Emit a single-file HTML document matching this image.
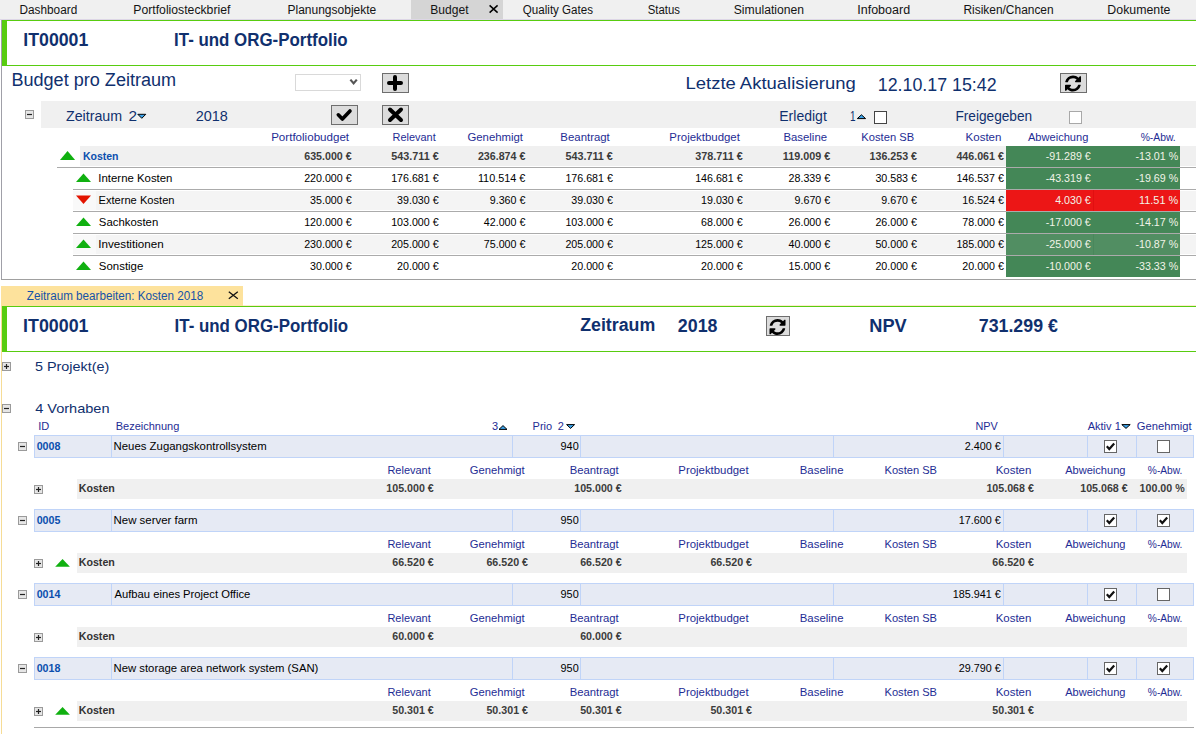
<!DOCTYPE html>
<html><head><meta charset="utf-8"><title>Budget</title>
<style>
html,body{margin:0;padding:0;background:#fff;width:1196px;height:734px;overflow:hidden}
svg{display:block}
svg text{font-family:"Liberation Sans",Arial,sans-serif;white-space:pre}
svg rect{shape-rendering:crispEdges}
</style></head><body>
<svg width="1196" height="734" viewBox="0 0 1196 734">
<rect x="0" y="0" width="1196" height="20" fill="#f0f0f0"/>
<rect x="411" y="0" width="92" height="19" fill="#d5d5d5"/>
<rect x="0" y="19" width="1196" height="1" fill="#ddd6e6"/>
<text x="19.53" y="14.00" font-size="12" fill="#141414" textLength="57.73" lengthAdjust="spacingAndGlyphs">Dashboard</text>
<text x="133.30" y="14.00" font-size="12" fill="#141414" textLength="97.08" lengthAdjust="spacingAndGlyphs">Portfoliosteckbrief</text>
<text x="287.52" y="14.00" font-size="12" fill="#141414" textLength="88.72" lengthAdjust="spacingAndGlyphs">Planungsobjekte</text>
<text x="430.31" y="14.00" font-size="12" fill="#141414" textLength="38.28" lengthAdjust="spacingAndGlyphs">Budget</text>
<text x="522.85" y="14.00" font-size="12" fill="#141414" textLength="70.17" lengthAdjust="spacingAndGlyphs">Quality Gates</text>
<text x="647.78" y="14.00" font-size="12" fill="#141414" textLength="32.23" lengthAdjust="spacingAndGlyphs">Status</text>
<text x="733.75" y="14.00" font-size="12" fill="#141414" textLength="70.34" lengthAdjust="spacingAndGlyphs">Simulationen</text>
<text x="857.25" y="14.00" font-size="12" fill="#141414" textLength="52.86" lengthAdjust="spacingAndGlyphs">Infoboard</text>
<text x="963.42" y="14.00" font-size="12" fill="#141414" textLength="90.25" lengthAdjust="spacingAndGlyphs">Risiken/Chancen</text>
<text x="1107.39" y="14.00" font-size="12" fill="#141414" textLength="63.06" lengthAdjust="spacingAndGlyphs">Dokumente</text>
<path d="M489.6 5.4 L497.6 12.6 M497.6 5.4 L489.6 12.6" stroke="#000" stroke-width="1.5" fill="none"/>
<rect x="1" y="20" width="1" height="260" fill="#a0a0a8"/>
<rect x="1" y="279" width="1195" height="1" fill="#a0a0a0"/>
<rect x="2" y="20" width="1194" height="1" fill="#58cc10"/>
<rect x="2" y="65" width="1194" height="1" fill="#58cc10"/>
<rect x="2" y="20" width="5" height="46" fill="#58cc10"/>
<text x="23.32" y="46.00" font-size="17.5" font-weight="bold" fill="#10306e" textLength="64.98" lengthAdjust="spacingAndGlyphs">IT00001</text>
<text x="174.08" y="46.00" font-size="17.5" font-weight="bold" fill="#10306e" textLength="173.58" lengthAdjust="spacingAndGlyphs">IT- und ORG-Portfolio</text>
<text x="11.42" y="86.00" font-size="18" fill="#10306e" textLength="164.77" lengthAdjust="spacingAndGlyphs">Budget pro Zeitraum</text>
<rect x="295.5" y="74.5" width="65" height="16" fill="#ffffff" stroke="#d9d9d9" stroke-width="1"/>
<path d="M350.4 79.6 L353.6 83.4 L356.8 79.6" stroke="#555" stroke-width="2.2" fill="none"/>
<rect x="382.5" y="73.5" width="26" height="19" fill="#dcdcdc" stroke="#6e6e6e" stroke-width="1"/>
<path d="M389 83 H401 M395 77 V89" stroke="#000" stroke-width="4" stroke-linecap="round" fill="none"/>
<text x="685.50" y="89.00" font-size="17" fill="#10306e" textLength="170.29" lengthAdjust="spacingAndGlyphs">Letzte Aktualisierung</text>
<text x="877.74" y="91.00" font-size="18" fill="#10306e" textLength="118.85" lengthAdjust="spacingAndGlyphs">12.10.17 15:42</text>
<rect x="1060.5" y="73.5" width="26" height="19" fill="#dcdcdc" stroke="#6e6e6e" stroke-width="1"/>
<path transform="translate(1063.67,74.17) scale(0.01042)" d="M1639 1056q0 5-1 7-64 268-268 434.5t-478 166.5q-146 0-282.5-55t-243.5-157l-129 129q-19 19-45 19t-45-19-19-45v-448q0-26 19-45t45-19h448q26 0 45 19t19 45-19 45l-137 137q71 66 161 102t187 36q134 0 250-65t186-179q11-17 53-117 8-23 30-23h192q13 0 22.5 9.5t9.5 22.5zm25-800v448q0 26-19 45t-45 19h-448q-26 0-45-19t-19-45 19-45l138-138q-148-137-349-137-134 0-250 65t-186 179q-11 17-53 117-8 23-30 23h-199q-13 0-22.5-9.5t-9.5-22.5v-7q65-268 270-434.5t480-166.5q146 0 284 55.5t245 156.5l130-129q19-19 45-19t45 19 19 45z" fill="#000"/>
<rect x="41" y="101" width="1155" height="27" fill="#f0f0f0"/>
<rect x="25.5" y="110.5" width="8" height="8" fill="#e6e6e6" stroke="#9a9a9a" stroke-width="1"/>
<path d="M27 114.5 H32" stroke="#222" stroke-width="1.2"/>
<text x="65.95" y="121.00" font-size="14" fill="#10306e" textLength="56.19" lengthAdjust="spacingAndGlyphs">Zeitraum</text>
<text x="128.53" y="121.00" font-size="14" fill="#10306e" textLength="8.55" lengthAdjust="spacingAndGlyphs">2</text>
<path d="M137.8 114.3 L145.8 114.3 L141.8 118.3 Z" fill="#3ca4ec" stroke="#000" stroke-width="1"/>
<text x="195.67" y="121.40" font-size="14" fill="#10306e" textLength="32.16" lengthAdjust="spacingAndGlyphs">2018</text>
<rect x="331.5" y="105.5" width="26" height="19" fill="#dcdcdc" stroke="#6e6e6e" stroke-width="1"/>
<path d="M338.3 114.8 L342.4 119 L350 111" stroke="#000" stroke-width="3.6" stroke-linecap="round" stroke-linejoin="round" fill="none"/>
<rect x="382.5" y="105.5" width="26" height="19" fill="#dcdcdc" stroke="#6e6e6e" stroke-width="1"/>
<path d="M390 109.5 L401 120 M401 109.5 L390 120" stroke="#000" stroke-width="4" stroke-linecap="round" fill="none"/>
<text x="779.25" y="120.50" font-size="14" fill="#10306e" textLength="47.55" lengthAdjust="spacingAndGlyphs">Erledigt</text>
<text x="849.94" y="120.50" font-size="14" fill="#10306e" textLength="5.55" lengthAdjust="spacingAndGlyphs">1</text>
<path d="M857.3 118.6 L865.6 118.6 L861.45 114.8 Z" fill="#3ca4ec" stroke="#000" stroke-width="1"/>
<rect x="874.5" y="111.5" width="12" height="12" fill="#ffffff" stroke="#444" stroke-width="1"/>
<text x="955.38" y="120.50" font-size="14" fill="#10306e" textLength="76.81" lengthAdjust="spacingAndGlyphs">Freigegeben</text>
<rect x="1069.5" y="111.5" width="12" height="12" fill="#ffffff" stroke="#a8a8a8" stroke-width="1"/>
<text x="271.15" y="141.00" font-size="11" fill="#1e2c94" textLength="77.94" lengthAdjust="spacingAndGlyphs">Portfoliobudget</text>
<text x="392.60" y="141.00" font-size="11" fill="#1e2c94" textLength="43.08" lengthAdjust="spacingAndGlyphs">Relevant</text>
<text x="467.43" y="141.00" font-size="11" fill="#1e2c94" textLength="55.55" lengthAdjust="spacingAndGlyphs">Genehmigt</text>
<text x="560.37" y="141.00" font-size="11" fill="#1e2c94" textLength="49.42" lengthAdjust="spacingAndGlyphs">Beantragt</text>
<text x="669.36" y="141.00" font-size="11" fill="#1e2c94" textLength="70.52" lengthAdjust="spacingAndGlyphs">Projektbudget</text>
<text x="783.47" y="141.00" font-size="11" fill="#1e2c94" textLength="43.54" lengthAdjust="spacingAndGlyphs">Baseline</text>
<text x="861.39" y="141.00" font-size="11" fill="#1e2c94" textLength="52.70" lengthAdjust="spacingAndGlyphs">Kosten SB</text>
<text x="965.55" y="141.00" font-size="11" fill="#1e2c94" textLength="35.89" lengthAdjust="spacingAndGlyphs">Kosten</text>
<text x="1027.98" y="141.00" font-size="11" fill="#1e2c94" textLength="60.34" lengthAdjust="spacingAndGlyphs">Abweichung</text>
<text x="1140.64" y="141.00" font-size="11" fill="#1e2c94" textLength="35.09" lengthAdjust="spacingAndGlyphs">%-Abw.</text>
<rect x="80" y="146" width="1116" height="20" fill="#f0f0f0"/>
<rect x="57" y="167" width="1139" height="1" fill="#ababab"/>
<path d="M60 159.9 L75.1 159.9 L67.55 151.1 Z" fill="#10b010"/>
<text x="82.90" y="160.00" font-size="11" font-weight="bold" fill="#0b4fae" textLength="35.66" lengthAdjust="spacingAndGlyphs">Kosten</text>
<rect x="1006" y="146" width="174" height="21" fill="#448757"/>
<text x="304.22" y="159.50" font-size="11" font-weight="bold" fill="#3c3c3c" textLength="47.47" lengthAdjust="spacingAndGlyphs">635.000 €</text>
<text x="391.22" y="159.50" font-size="11" font-weight="bold" fill="#3c3c3c" textLength="47.47" lengthAdjust="spacingAndGlyphs">543.711 €</text>
<text x="477.92" y="159.50" font-size="11" font-weight="bold" fill="#3c3c3c" textLength="47.47" lengthAdjust="spacingAndGlyphs">236.874 €</text>
<text x="565.42" y="159.50" font-size="11" font-weight="bold" fill="#3c3c3c" textLength="47.47" lengthAdjust="spacingAndGlyphs">543.711 €</text>
<text x="695.22" y="159.50" font-size="11" font-weight="bold" fill="#3c3c3c" textLength="47.47" lengthAdjust="spacingAndGlyphs">378.711 €</text>
<text x="782.72" y="159.50" font-size="11" font-weight="bold" fill="#3c3c3c" textLength="47.47" lengthAdjust="spacingAndGlyphs">119.009 €</text>
<text x="869.52" y="159.50" font-size="11" font-weight="bold" fill="#3c3c3c" textLength="47.47" lengthAdjust="spacingAndGlyphs">136.253 €</text>
<text x="956.42" y="159.50" font-size="11" font-weight="bold" fill="#3c3c3c" textLength="47.47" lengthAdjust="spacingAndGlyphs">446.061 €</text>
<text x="1045.66" y="159.50" font-size="11" fill="#f2f4e8" textLength="45.09" lengthAdjust="spacingAndGlyphs">-91.289 €</text>
<text x="1135.47" y="159.50" font-size="11" fill="#f2f4e8" textLength="42.71" lengthAdjust="spacingAndGlyphs">-13.01 %</text>
<rect x="73" y="189" width="1123" height="1" fill="#ababab"/>
<path d="M76 182 L91 182 L83.5 173.4 Z" fill="#10b010"/>
<text x="98.35" y="182.20" font-size="11" fill="#000" textLength="74.09" lengthAdjust="spacingAndGlyphs">Interne Kosten</text>
<rect x="1006" y="168" width="174" height="21" fill="#448757"/>
<text x="304.18" y="182.20" font-size="11" fill="#000" textLength="47.47" lengthAdjust="spacingAndGlyphs">220.000 €</text>
<text x="391.18" y="182.20" font-size="11" fill="#000" textLength="47.47" lengthAdjust="spacingAndGlyphs">176.681 €</text>
<text x="477.88" y="182.20" font-size="11" fill="#000" textLength="47.47" lengthAdjust="spacingAndGlyphs">110.514 €</text>
<text x="565.38" y="182.20" font-size="11" fill="#000" textLength="47.47" lengthAdjust="spacingAndGlyphs">176.681 €</text>
<text x="695.18" y="182.20" font-size="11" fill="#000" textLength="47.47" lengthAdjust="spacingAndGlyphs">146.681 €</text>
<text x="788.62" y="182.20" font-size="11" fill="#000" textLength="41.53" lengthAdjust="spacingAndGlyphs">28.339 €</text>
<text x="875.42" y="182.20" font-size="11" fill="#000" textLength="41.53" lengthAdjust="spacingAndGlyphs">30.583 €</text>
<text x="956.38" y="182.20" font-size="11" fill="#000" textLength="47.47" lengthAdjust="spacingAndGlyphs">146.537 €</text>
<text x="1045.66" y="182.20" font-size="11" fill="#f2f4e8" textLength="45.09" lengthAdjust="spacingAndGlyphs">-43.319 €</text>
<text x="1135.47" y="182.20" font-size="11" fill="#f2f4e8" textLength="42.71" lengthAdjust="spacingAndGlyphs">-19.69 %</text>
<rect x="73" y="191" width="23" height="19" fill="#f9f9f9"/>
<rect x="96" y="191" width="1100" height="19" fill="#f4f4f4"/>
<rect x="73" y="211" width="1123" height="1" fill="#ababab"/>
<path d="M76 195.4 L91 195.4 L83.5 204 Z" fill="#e31400"/>
<text x="98.49" y="204.20" font-size="11" fill="#000" textLength="76.03" lengthAdjust="spacingAndGlyphs">Externe Kosten</text>
<rect x="1006" y="190" width="174" height="21" fill="#ec1616"/>
<rect x="1093" y="190" width="1" height="21" fill="#e01010"/>
<text x="310.12" y="204.20" font-size="11" fill="#000" textLength="41.53" lengthAdjust="spacingAndGlyphs">35.000 €</text>
<text x="397.12" y="204.20" font-size="11" fill="#000" textLength="41.53" lengthAdjust="spacingAndGlyphs">39.030 €</text>
<text x="489.75" y="204.20" font-size="11" fill="#000" textLength="35.60" lengthAdjust="spacingAndGlyphs">9.360 €</text>
<text x="571.32" y="204.20" font-size="11" fill="#000" textLength="41.53" lengthAdjust="spacingAndGlyphs">39.030 €</text>
<text x="701.12" y="204.20" font-size="11" fill="#000" textLength="41.53" lengthAdjust="spacingAndGlyphs">19.030 €</text>
<text x="794.55" y="204.20" font-size="11" fill="#000" textLength="35.60" lengthAdjust="spacingAndGlyphs">9.670 €</text>
<text x="881.35" y="204.20" font-size="11" fill="#000" textLength="35.60" lengthAdjust="spacingAndGlyphs">9.670 €</text>
<text x="962.32" y="204.20" font-size="11" fill="#000" textLength="41.53" lengthAdjust="spacingAndGlyphs">16.524 €</text>
<text x="1055.15" y="204.20" font-size="11" fill="#f2f4e8" textLength="35.60" lengthAdjust="spacingAndGlyphs">4.030 €</text>
<text x="1139.03" y="204.20" font-size="11" fill="#f2f4e8" textLength="39.15" lengthAdjust="spacingAndGlyphs">11.51 %</text>
<rect x="73" y="233" width="1123" height="1" fill="#ababab"/>
<path d="M76 226 L91 226 L83.5 217.4 Z" fill="#10b010"/>
<text x="98.88" y="226.20" font-size="11" fill="#000" textLength="59.35" lengthAdjust="spacingAndGlyphs">Sachkosten</text>
<rect x="1006" y="212" width="174" height="21" fill="#448757"/>
<text x="304.18" y="226.20" font-size="11" fill="#000" textLength="47.47" lengthAdjust="spacingAndGlyphs">120.000 €</text>
<text x="391.18" y="226.20" font-size="11" fill="#000" textLength="47.47" lengthAdjust="spacingAndGlyphs">103.000 €</text>
<text x="483.82" y="226.20" font-size="11" fill="#000" textLength="41.53" lengthAdjust="spacingAndGlyphs">42.000 €</text>
<text x="565.38" y="226.20" font-size="11" fill="#000" textLength="47.47" lengthAdjust="spacingAndGlyphs">103.000 €</text>
<text x="701.12" y="226.20" font-size="11" fill="#000" textLength="41.53" lengthAdjust="spacingAndGlyphs">68.000 €</text>
<text x="788.62" y="226.20" font-size="11" fill="#000" textLength="41.53" lengthAdjust="spacingAndGlyphs">26.000 €</text>
<text x="875.42" y="226.20" font-size="11" fill="#000" textLength="41.53" lengthAdjust="spacingAndGlyphs">26.000 €</text>
<text x="962.32" y="226.20" font-size="11" fill="#000" textLength="41.53" lengthAdjust="spacingAndGlyphs">78.000 €</text>
<text x="1045.66" y="226.20" font-size="11" fill="#f2f4e8" textLength="45.09" lengthAdjust="spacingAndGlyphs">-17.000 €</text>
<text x="1135.47" y="226.20" font-size="11" fill="#f2f4e8" textLength="42.71" lengthAdjust="spacingAndGlyphs">-14.17 %</text>
<rect x="73" y="235" width="23" height="19" fill="#f9f9f9"/>
<rect x="96" y="235" width="1100" height="19" fill="#f4f4f4"/>
<rect x="73" y="255" width="1123" height="1" fill="#ababab"/>
<path d="M76 248 L91 248 L83.5 239.4 Z" fill="#10b010"/>
<text x="98.33" y="248.20" font-size="11" fill="#000" textLength="65.33" lengthAdjust="spacingAndGlyphs">Investitionen</text>
<rect x="1006" y="234" width="174" height="21" fill="#518e62"/>
<rect x="1093" y="234" width="1" height="21" fill="#4a875b"/>
<text x="304.18" y="248.20" font-size="11" fill="#000" textLength="47.47" lengthAdjust="spacingAndGlyphs">230.000 €</text>
<text x="391.18" y="248.20" font-size="11" fill="#000" textLength="47.47" lengthAdjust="spacingAndGlyphs">205.000 €</text>
<text x="483.82" y="248.20" font-size="11" fill="#000" textLength="41.53" lengthAdjust="spacingAndGlyphs">75.000 €</text>
<text x="565.38" y="248.20" font-size="11" fill="#000" textLength="47.47" lengthAdjust="spacingAndGlyphs">205.000 €</text>
<text x="695.18" y="248.20" font-size="11" fill="#000" textLength="47.47" lengthAdjust="spacingAndGlyphs">125.000 €</text>
<text x="788.62" y="248.20" font-size="11" fill="#000" textLength="41.53" lengthAdjust="spacingAndGlyphs">40.000 €</text>
<text x="875.42" y="248.20" font-size="11" fill="#000" textLength="41.53" lengthAdjust="spacingAndGlyphs">50.000 €</text>
<text x="956.38" y="248.20" font-size="11" fill="#000" textLength="47.47" lengthAdjust="spacingAndGlyphs">185.000 €</text>
<text x="1045.66" y="248.20" font-size="11" fill="#f2f4e8" textLength="45.09" lengthAdjust="spacingAndGlyphs">-25.000 €</text>
<text x="1135.47" y="248.20" font-size="11" fill="#f2f4e8" textLength="42.71" lengthAdjust="spacingAndGlyphs">-10.87 %</text>
<path d="M76 270 L91 270 L83.5 261.4 Z" fill="#10b010"/>
<text x="98.88" y="270.20" font-size="11" fill="#000" textLength="44.43" lengthAdjust="spacingAndGlyphs">Sonstige</text>
<rect x="1006" y="256" width="174" height="21" fill="#448757"/>
<text x="310.12" y="270.20" font-size="11" fill="#000" textLength="41.53" lengthAdjust="spacingAndGlyphs">30.000 €</text>
<text x="397.12" y="270.20" font-size="11" fill="#000" textLength="41.53" lengthAdjust="spacingAndGlyphs">20.000 €</text>
<text x="571.32" y="270.20" font-size="11" fill="#000" textLength="41.53" lengthAdjust="spacingAndGlyphs">20.000 €</text>
<text x="701.12" y="270.20" font-size="11" fill="#000" textLength="41.53" lengthAdjust="spacingAndGlyphs">20.000 €</text>
<text x="788.62" y="270.20" font-size="11" fill="#000" textLength="41.53" lengthAdjust="spacingAndGlyphs">15.000 €</text>
<text x="875.42" y="270.20" font-size="11" fill="#000" textLength="41.53" lengthAdjust="spacingAndGlyphs">20.000 €</text>
<text x="962.32" y="270.20" font-size="11" fill="#000" textLength="41.53" lengthAdjust="spacingAndGlyphs">20.000 €</text>
<text x="1045.66" y="270.20" font-size="11" fill="#f2f4e8" textLength="45.09" lengthAdjust="spacingAndGlyphs">-10.000 €</text>
<text x="1135.47" y="270.20" font-size="11" fill="#f2f4e8" textLength="42.71" lengthAdjust="spacingAndGlyphs">-33.33 %</text>
<rect x="1" y="286" width="242" height="20" fill="#fde29c"/>
<text x="26.83" y="300.00" font-size="12" fill="#1552a8" textLength="176.48" lengthAdjust="spacingAndGlyphs">Zeitraum bearbeiten: Kosten 2018</text>
<path d="M228.8 291.8 L237.8 298.8 M237.8 291.8 L228.8 298.8" stroke="#111" stroke-width="1.3" fill="none"/>
<rect x="1" y="306" width="1" height="428" fill="#f6dc96"/>
<rect x="243" y="305" width="953" height="1" fill="#fdeccc"/>
<rect x="2" y="306" width="1194" height="1" fill="#58cc10"/>
<rect x="2" y="351" width="1194" height="1" fill="#58cc10"/>
<rect x="2" y="306" width="5" height="46" fill="#58cc10"/>
<text x="23.11" y="332.00" font-size="17.5" font-weight="bold" fill="#10306e" textLength="65.39" lengthAdjust="spacingAndGlyphs">IT00001</text>
<text x="174.58" y="332.00" font-size="17.5" font-weight="bold" fill="#10306e" textLength="173.58" lengthAdjust="spacingAndGlyphs">IT- und ORG-Portfolio</text>
<text x="580.17" y="331.00" font-size="17.5" font-weight="bold" fill="#10306e" textLength="75.03" lengthAdjust="spacingAndGlyphs">Zeitraum</text>
<text x="677.88" y="332.00" font-size="17.5" font-weight="bold" fill="#10306e" textLength="39.67" lengthAdjust="spacingAndGlyphs">2018</text>
<rect x="766.5" y="316.5" width="23" height="19" fill="#dcdcdc" stroke="#6e6e6e" stroke-width="1"/>
<path transform="translate(768.17,317.67) scale(0.01042)" d="M1639 1056q0 5-1 7-64 268-268 434.5t-478 166.5q-146 0-282.5-55t-243.5-157l-129 129q-19 19-45 19t-45-19-19-45v-448q0-26 19-45t45-19h448q26 0 45 19t19 45-19 45l-137 137q71 66 161 102t187 36q134 0 250-65t186-179q11-17 53-117 8-23 30-23h192q13 0 22.5 9.5t9.5 22.5zm25-800v448q0 26-19 45t-45 19h-448q-26 0-45-19t-19-45 19-45l138-138q-148-137-349-137-134 0-250 65t-186 179q-11 17-53 117-8 23-30 23h-199q-13 0-22.5-9.5t-9.5-22.5v-7q65-268 270-434.5t480-166.5q146 0 284 55.5t245 156.5l130-129q19-19 45-19t45 19 19 45z" fill="#000"/>
<text x="869.28" y="332.00" font-size="17.5" font-weight="bold" fill="#10306e" textLength="37.44" lengthAdjust="spacingAndGlyphs">NPV</text>
<text x="978.74" y="332.00" font-size="17.5" font-weight="bold" fill="#10306e" textLength="79.18" lengthAdjust="spacingAndGlyphs">731.299 €</text>
<rect x="2.5" y="362.5" width="8" height="8" fill="#e6e6e6" stroke="#9a9a9a" stroke-width="1"/>
<path d="M4 366.5 H9" stroke="#222" stroke-width="1.2"/>
<path d="M6.5 364 V369" stroke="#222" stroke-width="1.2"/>
<text x="34.92" y="371.00" font-size="13.5" fill="#10306e" textLength="74.37" lengthAdjust="spacingAndGlyphs">5 Projekt(e)</text>
<rect x="2.5" y="404.5" width="8" height="8" fill="#e6e6e6" stroke="#9a9a9a" stroke-width="1"/>
<path d="M4 408.5 H9" stroke="#222" stroke-width="1.2"/>
<text x="35.17" y="413.00" font-size="13.5" fill="#10306e" textLength="74.36" lengthAdjust="spacingAndGlyphs">4 Vorhaben</text>
<text x="38.28" y="430.00" font-size="11" fill="#1e2c94" textLength="11.05" lengthAdjust="spacingAndGlyphs">ID</text>
<text x="115.70" y="430.00" font-size="11" fill="#1e2c94" textLength="63.60" lengthAdjust="spacingAndGlyphs">Bezeichnung</text>
<text x="491.88" y="430.00" font-size="11" fill="#1e2c94" textLength="6.12" lengthAdjust="spacingAndGlyphs">3</text>
<path d="M499 429.4 L507 429.4 L503.0 425.6 Z" fill="#3ca4ec" stroke="#000" stroke-width="1"/>
<text x="532.60" y="430.00" font-size="11" fill="#1e2c94" textLength="19.56" lengthAdjust="spacingAndGlyphs">Prio</text>
<text x="557.75" y="430.00" font-size="11" fill="#1e2c94" textLength="6.12" lengthAdjust="spacingAndGlyphs">2</text>
<path d="M566.6 424.6 L574.6 424.6 L570.6 428.4 Z" fill="#3ca4ec" stroke="#000" stroke-width="1"/>
<text x="975.51" y="430.00" font-size="11" fill="#1e2c94" textLength="22.34" lengthAdjust="spacingAndGlyphs">NPV</text>
<text x="1087.68" y="430.00" font-size="11" fill="#1e2c94" textLength="23.84" lengthAdjust="spacingAndGlyphs">Aktiv</text>
<text x="1114.66" y="430.00" font-size="11" fill="#1e2c94" textLength="6.12" lengthAdjust="spacingAndGlyphs">1</text>
<path d="M1121.8 424.6 L1130.2 424.6 L1126.0 428.4 Z" fill="#3ca4ec" stroke="#000" stroke-width="1"/>
<text x="1136.74" y="430.00" font-size="11" fill="#1e2c94" textLength="54.85" lengthAdjust="spacingAndGlyphs">Genehmigt</text>
<rect x="34.5" y="435.5" width="1159" height="22" fill="#e6eaf4" stroke="#c0d4f8" stroke-width="1"/>
<rect x="111" y="435" width="1" height="23" fill="#c0d4f8"/>
<rect x="512" y="435" width="1" height="23" fill="#c0d4f8"/>
<rect x="580" y="435" width="1" height="23" fill="#c0d4f8"/>
<rect x="833" y="435" width="1" height="23" fill="#c0d4f8"/>
<rect x="1003" y="435" width="1" height="23" fill="#c0d4f8"/>
<rect x="1087" y="435" width="1" height="23" fill="#c0d4f8"/>
<rect x="1136" y="435" width="1" height="23" fill="#c0d4f8"/>
<rect x="18.5" y="442.5" width="8" height="8" fill="#e6e6e6" stroke="#9a9a9a" stroke-width="1"/>
<path d="M20 446.5 H25" stroke="#222" stroke-width="1.2"/>
<text x="36.68" y="450.00" font-size="11" font-weight="bold" fill="#0b4fae" textLength="23.74" lengthAdjust="spacingAndGlyphs">0008</text>
<text x="113.57" y="450.00" font-size="11" fill="#000" textLength="153.08" lengthAdjust="spacingAndGlyphs">Neues Zugangskontrollsystem</text>
<text x="560.56" y="450.00" font-size="11" fill="#000" textLength="18.17" lengthAdjust="spacingAndGlyphs">940</text>
<text x="964.79" y="450.00" font-size="11" fill="#000" textLength="35.97" lengthAdjust="spacingAndGlyphs">2.400 €</text>
<rect x="1104.5" y="440.5" width="12" height="12" fill="#ffffff" stroke="#666" stroke-width="1"/>
<path d="M1106.8 446.3 L1109.3 449 L1114.2 443.6" stroke="#111" stroke-width="2.2" fill="none" stroke-linejoin="miter"/>
<rect x="1157.5" y="440.5" width="12" height="12" fill="#ffffff" stroke="#666" stroke-width="1"/>
<text x="387.40" y="474.00" font-size="11" fill="#1e2c94" textLength="43.38" lengthAdjust="spacingAndGlyphs">Relevant</text>
<text x="469.84" y="474.00" font-size="11" fill="#1e2c94" textLength="54.85" lengthAdjust="spacingAndGlyphs">Genehmigt</text>
<text x="569.67" y="474.00" font-size="11" fill="#1e2c94" textLength="48.91" lengthAdjust="spacingAndGlyphs">Beantragt</text>
<text x="678.37" y="474.00" font-size="11" fill="#1e2c94" textLength="70.22" lengthAdjust="spacingAndGlyphs">Projektbudget</text>
<text x="799.76" y="474.00" font-size="11" fill="#1e2c94" textLength="43.74" lengthAdjust="spacingAndGlyphs">Baseline</text>
<text x="884.49" y="474.00" font-size="11" fill="#1e2c94" textLength="52.50" lengthAdjust="spacingAndGlyphs">Kosten SB</text>
<text x="995.66" y="474.00" font-size="11" fill="#1e2c94" textLength="35.68" lengthAdjust="spacingAndGlyphs">Kosten</text>
<text x="1065.18" y="474.00" font-size="11" fill="#1e2c94" textLength="60.34" lengthAdjust="spacingAndGlyphs">Abweichung</text>
<text x="1147.84" y="474.00" font-size="11" fill="#1e2c94" textLength="34.57" lengthAdjust="spacingAndGlyphs">%-Abw.</text>
<rect x="77" y="479" width="1110" height="20" fill="#f0f0f0"/>
<rect x="34.5" y="485.5" width="8" height="8" fill="#e6e6e6" stroke="#9a9a9a" stroke-width="1"/>
<path d="M36 489.5 H41" stroke="#222" stroke-width="1.2"/>
<path d="M38.5 487 V492" stroke="#222" stroke-width="1.2"/>
<text x="78.69" y="492.00" font-size="11" font-weight="bold" fill="#333" textLength="36.16" lengthAdjust="spacingAndGlyphs">Kosten</text>
<text x="386.32" y="492.00" font-size="11" font-weight="bold" fill="#3c3c3c" textLength="47.47" lengthAdjust="spacingAndGlyphs">105.000 €</text>
<text x="574.22" y="492.00" font-size="11" font-weight="bold" fill="#3c3c3c" textLength="47.47" lengthAdjust="spacingAndGlyphs">105.000 €</text>
<text x="986.42" y="492.00" font-size="11" font-weight="bold" fill="#3c3c3c" textLength="47.47" lengthAdjust="spacingAndGlyphs">105.068 €</text>
<text x="1080.22" y="492.00" font-size="11" font-weight="bold" fill="#3c3c3c" textLength="47.47" lengthAdjust="spacingAndGlyphs">105.068 €</text>
<text x="1139.59" y="492.00" font-size="11" font-weight="bold" fill="#3c3c3c" textLength="45.09" lengthAdjust="spacingAndGlyphs">100.00 %</text>
<rect x="34.5" y="509.5" width="1159" height="22" fill="#e6eaf4" stroke="#c0d4f8" stroke-width="1"/>
<rect x="111" y="509" width="1" height="23" fill="#c0d4f8"/>
<rect x="512" y="509" width="1" height="23" fill="#c0d4f8"/>
<rect x="580" y="509" width="1" height="23" fill="#c0d4f8"/>
<rect x="833" y="509" width="1" height="23" fill="#c0d4f8"/>
<rect x="1003" y="509" width="1" height="23" fill="#c0d4f8"/>
<rect x="1087" y="509" width="1" height="23" fill="#c0d4f8"/>
<rect x="1136" y="509" width="1" height="23" fill="#c0d4f8"/>
<rect x="18.5" y="516.5" width="8" height="8" fill="#e6e6e6" stroke="#9a9a9a" stroke-width="1"/>
<path d="M20 520.5 H25" stroke="#222" stroke-width="1.2"/>
<text x="36.68" y="524.00" font-size="11" font-weight="bold" fill="#0b4fae" textLength="23.74" lengthAdjust="spacingAndGlyphs">0005</text>
<text x="113.56" y="524.00" font-size="11" fill="#000" textLength="83.89" lengthAdjust="spacingAndGlyphs">New server farm</text>
<text x="560.56" y="524.00" font-size="11" fill="#000" textLength="18.17" lengthAdjust="spacingAndGlyphs">950</text>
<text x="958.79" y="524.00" font-size="11" fill="#000" textLength="41.96" lengthAdjust="spacingAndGlyphs">17.600 €</text>
<rect x="1104.5" y="514.5" width="12" height="12" fill="#ffffff" stroke="#666" stroke-width="1"/>
<path d="M1106.8 520.3 L1109.3 523 L1114.2 517.6" stroke="#111" stroke-width="2.2" fill="none" stroke-linejoin="miter"/>
<rect x="1157.5" y="514.5" width="12" height="12" fill="#ffffff" stroke="#666" stroke-width="1"/>
<path d="M1159.8 520.3 L1162.3 523 L1167.2 517.6" stroke="#111" stroke-width="2.2" fill="none" stroke-linejoin="miter"/>
<text x="387.40" y="548.00" font-size="11" fill="#1e2c94" textLength="43.38" lengthAdjust="spacingAndGlyphs">Relevant</text>
<text x="469.84" y="548.00" font-size="11" fill="#1e2c94" textLength="54.85" lengthAdjust="spacingAndGlyphs">Genehmigt</text>
<text x="569.67" y="548.00" font-size="11" fill="#1e2c94" textLength="48.91" lengthAdjust="spacingAndGlyphs">Beantragt</text>
<text x="678.37" y="548.00" font-size="11" fill="#1e2c94" textLength="70.22" lengthAdjust="spacingAndGlyphs">Projektbudget</text>
<text x="799.76" y="548.00" font-size="11" fill="#1e2c94" textLength="43.74" lengthAdjust="spacingAndGlyphs">Baseline</text>
<text x="884.49" y="548.00" font-size="11" fill="#1e2c94" textLength="52.50" lengthAdjust="spacingAndGlyphs">Kosten SB</text>
<text x="995.66" y="548.00" font-size="11" fill="#1e2c94" textLength="35.68" lengthAdjust="spacingAndGlyphs">Kosten</text>
<text x="1065.18" y="548.00" font-size="11" fill="#1e2c94" textLength="60.34" lengthAdjust="spacingAndGlyphs">Abweichung</text>
<text x="1147.84" y="548.00" font-size="11" fill="#1e2c94" textLength="34.57" lengthAdjust="spacingAndGlyphs">%-Abw.</text>
<rect x="77" y="553" width="1110" height="20" fill="#f0f0f0"/>
<rect x="34.5" y="559.5" width="8" height="8" fill="#e6e6e6" stroke="#9a9a9a" stroke-width="1"/>
<path d="M36 563.5 H41" stroke="#222" stroke-width="1.2"/>
<path d="M38.5 561 V566" stroke="#222" stroke-width="1.2"/>
<path d="M55.2 566.7 L69.9 566.7 L62.550000000000004 559 Z" fill="#10b010"/>
<text x="78.69" y="566.00" font-size="11" font-weight="bold" fill="#333" textLength="36.16" lengthAdjust="spacingAndGlyphs">Kosten</text>
<text x="392.25" y="566.00" font-size="11" font-weight="bold" fill="#3c3c3c" textLength="41.53" lengthAdjust="spacingAndGlyphs">66.520 €</text>
<text x="486.45" y="566.00" font-size="11" font-weight="bold" fill="#3c3c3c" textLength="41.53" lengthAdjust="spacingAndGlyphs">66.520 €</text>
<text x="580.15" y="566.00" font-size="11" font-weight="bold" fill="#3c3c3c" textLength="41.53" lengthAdjust="spacingAndGlyphs">66.520 €</text>
<text x="710.45" y="566.00" font-size="11" font-weight="bold" fill="#3c3c3c" textLength="41.53" lengthAdjust="spacingAndGlyphs">66.520 €</text>
<text x="992.35" y="566.00" font-size="11" font-weight="bold" fill="#3c3c3c" textLength="41.53" lengthAdjust="spacingAndGlyphs">66.520 €</text>
<rect x="34.5" y="583.5" width="1159" height="22" fill="#e6eaf4" stroke="#c0d4f8" stroke-width="1"/>
<rect x="111" y="583" width="1" height="23" fill="#c0d4f8"/>
<rect x="512" y="583" width="1" height="23" fill="#c0d4f8"/>
<rect x="580" y="583" width="1" height="23" fill="#c0d4f8"/>
<rect x="833" y="583" width="1" height="23" fill="#c0d4f8"/>
<rect x="1003" y="583" width="1" height="23" fill="#c0d4f8"/>
<rect x="1087" y="583" width="1" height="23" fill="#c0d4f8"/>
<rect x="1136" y="583" width="1" height="23" fill="#c0d4f8"/>
<rect x="18.5" y="590.5" width="8" height="8" fill="#e6e6e6" stroke="#9a9a9a" stroke-width="1"/>
<path d="M20 594.5 H25" stroke="#222" stroke-width="1.2"/>
<text x="36.68" y="598.00" font-size="11" font-weight="bold" fill="#0b4fae" textLength="23.74" lengthAdjust="spacingAndGlyphs">0014</text>
<text x="114.48" y="598.00" font-size="11" fill="#000" textLength="135.82" lengthAdjust="spacingAndGlyphs">Aufbau eines Project Office</text>
<text x="560.56" y="598.00" font-size="11" fill="#000" textLength="18.17" lengthAdjust="spacingAndGlyphs">950</text>
<text x="952.80" y="598.00" font-size="11" fill="#000" textLength="47.96" lengthAdjust="spacingAndGlyphs">185.941 €</text>
<rect x="1104.5" y="588.5" width="12" height="12" fill="#ffffff" stroke="#666" stroke-width="1"/>
<path d="M1106.8 594.3 L1109.3 597 L1114.2 591.6" stroke="#111" stroke-width="2.2" fill="none" stroke-linejoin="miter"/>
<rect x="1157.5" y="588.5" width="12" height="12" fill="#ffffff" stroke="#666" stroke-width="1"/>
<text x="387.40" y="622.00" font-size="11" fill="#1e2c94" textLength="43.38" lengthAdjust="spacingAndGlyphs">Relevant</text>
<text x="469.84" y="622.00" font-size="11" fill="#1e2c94" textLength="54.85" lengthAdjust="spacingAndGlyphs">Genehmigt</text>
<text x="569.67" y="622.00" font-size="11" fill="#1e2c94" textLength="48.91" lengthAdjust="spacingAndGlyphs">Beantragt</text>
<text x="678.37" y="622.00" font-size="11" fill="#1e2c94" textLength="70.22" lengthAdjust="spacingAndGlyphs">Projektbudget</text>
<text x="799.76" y="622.00" font-size="11" fill="#1e2c94" textLength="43.74" lengthAdjust="spacingAndGlyphs">Baseline</text>
<text x="884.49" y="622.00" font-size="11" fill="#1e2c94" textLength="52.50" lengthAdjust="spacingAndGlyphs">Kosten SB</text>
<text x="995.66" y="622.00" font-size="11" fill="#1e2c94" textLength="35.68" lengthAdjust="spacingAndGlyphs">Kosten</text>
<text x="1065.18" y="622.00" font-size="11" fill="#1e2c94" textLength="60.34" lengthAdjust="spacingAndGlyphs">Abweichung</text>
<text x="1147.84" y="622.00" font-size="11" fill="#1e2c94" textLength="34.57" lengthAdjust="spacingAndGlyphs">%-Abw.</text>
<rect x="77" y="627" width="1110" height="20" fill="#f0f0f0"/>
<rect x="34.5" y="633.5" width="8" height="8" fill="#e6e6e6" stroke="#9a9a9a" stroke-width="1"/>
<path d="M36 637.5 H41" stroke="#222" stroke-width="1.2"/>
<path d="M38.5 635 V640" stroke="#222" stroke-width="1.2"/>
<text x="78.69" y="640.00" font-size="11" font-weight="bold" fill="#333" textLength="36.16" lengthAdjust="spacingAndGlyphs">Kosten</text>
<text x="392.25" y="640.00" font-size="11" font-weight="bold" fill="#3c3c3c" textLength="41.53" lengthAdjust="spacingAndGlyphs">60.000 €</text>
<text x="580.15" y="640.00" font-size="11" font-weight="bold" fill="#3c3c3c" textLength="41.53" lengthAdjust="spacingAndGlyphs">60.000 €</text>
<rect x="34.5" y="657.5" width="1159" height="22" fill="#e6eaf4" stroke="#c0d4f8" stroke-width="1"/>
<rect x="111" y="657" width="1" height="23" fill="#c0d4f8"/>
<rect x="512" y="657" width="1" height="23" fill="#c0d4f8"/>
<rect x="580" y="657" width="1" height="23" fill="#c0d4f8"/>
<rect x="833" y="657" width="1" height="23" fill="#c0d4f8"/>
<rect x="1003" y="657" width="1" height="23" fill="#c0d4f8"/>
<rect x="1087" y="657" width="1" height="23" fill="#c0d4f8"/>
<rect x="1136" y="657" width="1" height="23" fill="#c0d4f8"/>
<rect x="18.5" y="664.5" width="8" height="8" fill="#e6e6e6" stroke="#9a9a9a" stroke-width="1"/>
<path d="M20 668.5 H25" stroke="#222" stroke-width="1.2"/>
<text x="36.68" y="672.00" font-size="11" font-weight="bold" fill="#0b4fae" textLength="23.74" lengthAdjust="spacingAndGlyphs">0018</text>
<text x="113.57" y="672.00" font-size="11" fill="#000" textLength="204.83" lengthAdjust="spacingAndGlyphs">New storage area network system (SAN)</text>
<text x="560.56" y="672.00" font-size="11" fill="#000" textLength="18.17" lengthAdjust="spacingAndGlyphs">950</text>
<text x="958.79" y="672.00" font-size="11" fill="#000" textLength="41.96" lengthAdjust="spacingAndGlyphs">29.790 €</text>
<rect x="1104.5" y="662.5" width="12" height="12" fill="#ffffff" stroke="#666" stroke-width="1"/>
<path d="M1106.8 668.3 L1109.3 671 L1114.2 665.6" stroke="#111" stroke-width="2.2" fill="none" stroke-linejoin="miter"/>
<rect x="1157.5" y="662.5" width="12" height="12" fill="#ffffff" stroke="#666" stroke-width="1"/>
<path d="M1159.8 668.3 L1162.3 671 L1167.2 665.6" stroke="#111" stroke-width="2.2" fill="none" stroke-linejoin="miter"/>
<text x="387.40" y="696.00" font-size="11" fill="#1e2c94" textLength="43.38" lengthAdjust="spacingAndGlyphs">Relevant</text>
<text x="469.84" y="696.00" font-size="11" fill="#1e2c94" textLength="54.85" lengthAdjust="spacingAndGlyphs">Genehmigt</text>
<text x="569.67" y="696.00" font-size="11" fill="#1e2c94" textLength="48.91" lengthAdjust="spacingAndGlyphs">Beantragt</text>
<text x="678.37" y="696.00" font-size="11" fill="#1e2c94" textLength="70.22" lengthAdjust="spacingAndGlyphs">Projektbudget</text>
<text x="799.76" y="696.00" font-size="11" fill="#1e2c94" textLength="43.74" lengthAdjust="spacingAndGlyphs">Baseline</text>
<text x="884.49" y="696.00" font-size="11" fill="#1e2c94" textLength="52.50" lengthAdjust="spacingAndGlyphs">Kosten SB</text>
<text x="995.66" y="696.00" font-size="11" fill="#1e2c94" textLength="35.68" lengthAdjust="spacingAndGlyphs">Kosten</text>
<text x="1065.18" y="696.00" font-size="11" fill="#1e2c94" textLength="60.34" lengthAdjust="spacingAndGlyphs">Abweichung</text>
<text x="1147.84" y="696.00" font-size="11" fill="#1e2c94" textLength="34.57" lengthAdjust="spacingAndGlyphs">%-Abw.</text>
<rect x="77" y="701" width="1110" height="20" fill="#f0f0f0"/>
<rect x="34.5" y="707.5" width="8" height="8" fill="#e6e6e6" stroke="#9a9a9a" stroke-width="1"/>
<path d="M36 711.5 H41" stroke="#222" stroke-width="1.2"/>
<path d="M38.5 709 V714" stroke="#222" stroke-width="1.2"/>
<path d="M55.2 714.7 L69.9 714.7 L62.550000000000004 707 Z" fill="#10b010"/>
<text x="78.69" y="714.00" font-size="11" font-weight="bold" fill="#333" textLength="36.16" lengthAdjust="spacingAndGlyphs">Kosten</text>
<text x="392.25" y="714.00" font-size="11" font-weight="bold" fill="#3c3c3c" textLength="41.53" lengthAdjust="spacingAndGlyphs">50.301 €</text>
<text x="486.45" y="714.00" font-size="11" font-weight="bold" fill="#3c3c3c" textLength="41.53" lengthAdjust="spacingAndGlyphs">50.301 €</text>
<text x="580.15" y="714.00" font-size="11" font-weight="bold" fill="#3c3c3c" textLength="41.53" lengthAdjust="spacingAndGlyphs">50.301 €</text>
<text x="710.45" y="714.00" font-size="11" font-weight="bold" fill="#3c3c3c" textLength="41.53" lengthAdjust="spacingAndGlyphs">50.301 €</text>
<text x="992.35" y="714.00" font-size="11" font-weight="bold" fill="#3c3c3c" textLength="41.53" lengthAdjust="spacingAndGlyphs">50.301 €</text>
<rect x="34" y="727" width="1160" height="1" fill="#a8a8a8"/>
</svg>
</body></html>
